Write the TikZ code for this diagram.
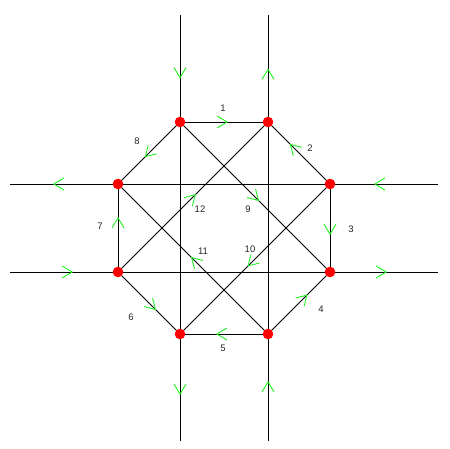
\documentclass[tikz,border=0pt]{standalone}
\usepackage{fontspec}
\setmainfont{Liberation Sans}
\usetikzlibrary{decorations.markings,arrows.meta}
\definecolor{flowgreen}{RGB}{30,240,30}
\pgfdeclarelayer{bg}
\pgfsetlayers{bg,main}
\tikzset{
  vtx/.style={circle, fill=red, inner sep=0pt, minimum size=10.6pt},
  wire/.style={draw=black, line width=0.9pt},
  flow/.style={postaction={decorate}, decoration={markings, mark=at position 0.5 with {\arrow[xshift=#1]{Straight Barb[length=10pt,width=12pt,color=flowgreen,line width=0.9pt]}}}},
  flow/.default=5pt,
  lbl/.style={font=\fontsize{9.5}{11}\selectfont, inner sep=0pt, text=black!85}
}
\begin{document}
\begin{tikzpicture}[x=1pt,y=-1pt]
\useasboundingbox (0,0) rectangle (450,449);
\node[vtx] (n1) at (180,122) {};
\node[vtx] (n2) at (268,122) {};
\node[vtx] (n3) at (330,184) {};
\node[vtx] (n4) at (330,272) {};
\node[vtx] (n5) at (268,334) {};
\node[vtx] (n6) at (180,334) {};
\node[vtx] (n7) at (118,272) {};
\node[vtx] (n8) at (118,184) {};
\coordinate (t1) at (180,15);
\coordinate (t2) at (268,15);
\coordinate (b1) at (180,441);
\coordinate (b2) at (268,441);
\coordinate (l1) at (10,184);
\coordinate (l2) at (10,272);
\coordinate (r1) at (438,184);
\coordinate (r2) at (438,272);
\begin{pgfonlayer}{bg}
\draw[wire, flow=10pt] (t1) -- (n1.center);
\draw[wire] (n1.center) -- (n6.center);
\draw[wire, flow=7.5pt] (n6.center) -- (b1);
\draw[wire, flow=6.5pt] (b2) -- (n5.center);
\draw[wire] (n5.center) -- (n2.center);
\draw[wire, flow=0pt] (n2.center) -- (t2);
\draw[wire, flow=10pt] (r1) -- (n3.center);
\draw[wire] (n3.center) -- (n8.center);
\draw[wire, flow=11pt] (n8.center) -- (l1);
\draw[wire, flow=9pt] (l2) -- (n7.center);
\draw[wire] (n7.center) -- (n4.center);
\draw[wire, flow=3pt] (n4.center) -- (r2);
% octagon
\draw[wire, flow=4pt] (n1.center) -- (n2.center);
\draw[wire, flow=13pt] (n3.center) -- (n2.center);
\draw[wire, flow=7pt] (n3.center) -- (n4.center);
\draw[wire, flow=12pt] (n5.center) -- (n4.center);
\draw[wire, flow=8pt] (n5.center) -- (n6.center);
\draw[wire, flow=10pt] (n7.center) -- (n6.center);
\draw[wire, flow=11pt] (n7.center) -- (n8.center);
\draw[wire, flow=6pt] (n1.center) -- (n8.center);
% diagonals
\draw[wire, flow=5.7pt] (n1.center) -- (n4.center);
\draw[wire, flow=10.6pt] (n3.center) -- (n6.center);
\draw[wire, flow=2.8pt] (n5.center) -- (n8.center);
\draw[wire, flow=4pt] (n7.center) -- (n2.center);
\end{pgfonlayer}
\node[lbl] (L1) at (223,108) {1};
\node[lbl] (L2) at (310,148) {2};
\node[lbl] (L3) at (351,229) {3};
\node[lbl] (L4) at (321,309) {4};
\node[lbl] (L5) at (223,348) {5};
\node[lbl] (L6) at (131,317) {6};
\node[lbl] (L7) at (100,226) {7};
\node[lbl] (L8) at (137,141) {8};
\node[lbl] (L9) at (248,209) {9};
\node[lbl] (L10) at (250,249) {10};
\node[lbl] (L11) at (203,251) {11};
\node[lbl] (L12) at (200,209) {12};
\end{tikzpicture}
\end{document}
